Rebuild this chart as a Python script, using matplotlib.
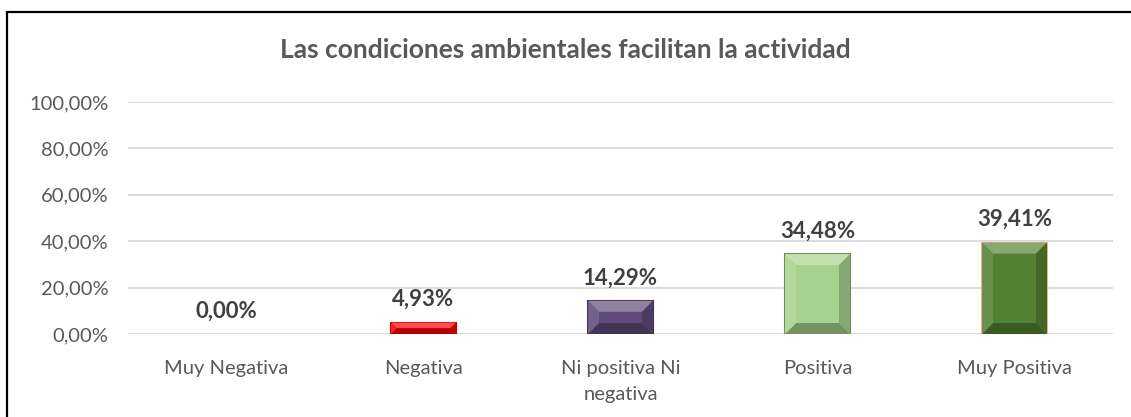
import matplotlib.pyplot as plt
from matplotlib.patches import Polygon, Rectangle
from matplotlib.ticker import FuncFormatter
import matplotlib.colors as mcolors

categorias = ["Muy Negativa", "Negativa", "Ni positiva Ni\nnegativa", "Positiva", "Muy Positiva"]
valores = [0.0, 4.93, 14.29, 34.48, 39.41]
etiquetas = ["0,00%", "4,93%", "14,29%", "34,48%", "39,41%"]
colores = ["#FF0000", "#FF0000", "#604A7B", "#A9D18E", "#548235"]
bordes = ["#C00000", "#C00000", "#3F3151", "#6E8F58", "#F4B183"]

plt.rcParams["font.family"] = ["Lato", "DejaVu Sans"]

W, H = 1131, 417
fig = plt.figure(figsize=(W / 100, H / 100), dpi=100)
ax = fig.add_axes([128 / W, 1 - 334 / H, (1113 - 128) / W, (334 - 102) / H])

x = list(range(len(categorias)))
fracs = [v / 100 for v in valores]
anchos_borde = [1.5 if v > 0 else 0 for v in valores]
barras = ax.bar(x, fracs, width=0.33, color=colores, edgecolor=bordes, linewidth=anchos_borde, zorder=3)

ax.set_xlim(-0.5, len(categorias) - 0.5)
ax.set_ylim(0, 1.0)
ax.set_yticks([0, 0.2, 0.4, 0.6, 0.8, 1.0])
ax.yaxis.set_major_formatter(FuncFormatter(lambda v, p: f"{v*100:.2f}%".replace(".", ",")))
ax.set_xticks(x)
ax.set_xticklabels(categorias, fontsize=14.5, color="#595959", linespacing=1.6)
ax.tick_params(axis="y", labelsize=14.5, labelcolor="#595959", length=0, pad=14)
ax.tick_params(axis="x", length=0, pad=19)
ax.grid(axis="y", color="#D9D9D9", linewidth=1.3, zorder=0)
for s in ax.spines.values():
    s.set_visible(False)

# efecto bisel sobre cada barra
def bisel(rect, color):
    x0, y0 = ax.transData.transform((rect.get_x(), rect.get_y()))
    x1, y1 = ax.transData.transform((rect.get_x() + rect.get_width(), rect.get_y() + rect.get_height()))
    if y1 - y0 < 1:
        return
    d = min(11, (y1 - y0) / 2, (x1 - x0) / 2)
    base = mcolors.to_rgb(color)
    claro = tuple(min(1, c + (1 - c) * 0.3) for c in base)
    oscuro = tuple(c * 0.7 for c in base)
    caras = [
        ([(x0, y1), (x1, y1), (x1 - d, y1 - d), (x0 + d, y1 - d)], claro),
        ([(x0, y0), (x1, y0), (x1 - d, y0 + d), (x0 + d, y0 + d)], oscuro),
        ([(x1, y0), (x1, y1), (x1 - d, y1 - d), (x1 - d, y0 + d)], tuple(c * 0.8 for c in base)),
        ([(x0, y0), (x0, y1), (x0 + d, y1 - d), (x0 + d, y0 + d)], tuple(min(1, c + (1 - c) * 0.12) for c in base)),
    ]
    for pts, c in caras:
        fig.patches.append(Polygon(pts, closed=True, facecolor=c, edgecolor="none",
                                   transform=None, zorder=4))

for r, c in zip(barras, colores):
    bisel(r, c)

for xi, f, t in zip(x, fracs, etiquetas):
    ax.annotate(t, (xi, f), xytext=(0, 9), textcoords="offset points", ha="center", va="bottom",
                fontsize=16, fontweight="bold", color="#404040", zorder=5)

fig.text(565 / W, 1 - 50 / H, "Las condiciones ambientales facilitan la actividad",
         ha="center", va="center", fontsize=19, fontweight="bold", color="#595959")

fig.patches.append(Rectangle((7 / W, -0.1), 1.2, 1 - 12 / H + 0.1, transform=fig.transFigure,
                             fill=False, edgecolor="black", linewidth=1.6))

fig.savefig("out.png", dpi=100)
